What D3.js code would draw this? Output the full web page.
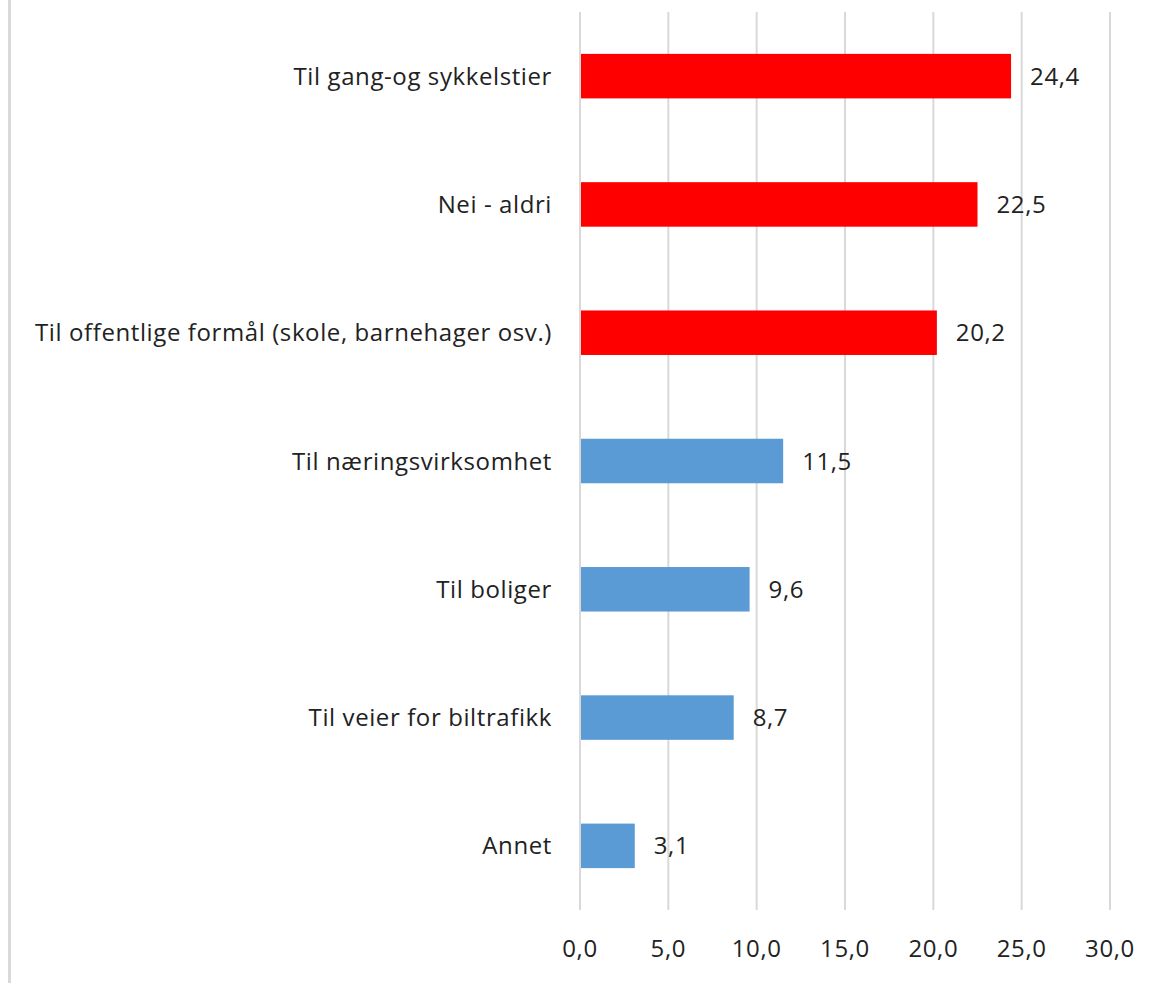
<!DOCTYPE html>
<html>
<head>
<meta charset="utf-8">
<script src="https://cdn.jsdelivr.net/npm/d3@7"></script>
<style>
  html, body { margin: 0; padding: 0; background: #fff; }
  svg text { font-family: "Open Sans", "Noto Sans", sans-serif; fill: #222; letter-spacing: 0.6px; }
</style>
</head>
<body>
<svg id="chart" width="1162" height="983"></svg>
<script>
const categories = [
  "Til gang-og sykkelstier",
  "Nei - aldri",
  "Til offentlige formål (skole, barnehager osv.)",
  "Til næringsvirksomhet",
  "Til boliger",
  "Til veier for biltrafikk",
  "Annet"
];
const values = [24.4, 22.5, 20.2, 11.5, 9.6, 8.7, 3.1];
const highlighted = [true, true, true, false, false, false, false];
const tickValues = [0, 5, 10, 15, 20, 25, 30];

const svg = d3.select("#chart");
const margin = { left: 580, right: 52, top: 12, bottom: 73 };
const W = 1162, H = 983;
const FS = 24;

const x = d3.scaleLinear().domain([0, 30]).range([margin.left, W - margin.right]);
const y = d3.scaleBand().domain(categories)
  .range([margin.top, H - margin.bottom])
  .paddingInner(0.653).paddingOuter(0.3265);

const fmt = v => d3.format(".1f")(v).replace(".", ",");

// left border
svg.append("line")
  .attr("x1", 9.5).attr("x2", 9.5).attr("y1", 0).attr("y2", H)
  .attr("stroke", "#d9d9d9").attr("stroke-width", 3);

// gridlines
svg.append("g").selectAll("line").data(tickValues).join("line")
  .attr("x1", d => x(d)).attr("x2", d => x(d))
  .attr("y1", margin.top).attr("y2", H - margin.bottom)
  .attr("stroke", "#d9d9d9").attr("stroke-width", 2);

// x tick labels
svg.append("g").selectAll("text").data(tickValues).join("text")
  .attr("x", d => x(d)).attr("y", 957)
  .attr("text-anchor", "middle")
  .attr("font-size", FS)
  .text(d => fmt(d));

// bars
svg.append("g").selectAll("rect").data(categories).join("rect")
  .attr("x", x(0) + 1)
  .attr("y", d => y(d))
  .attr("width", (d, i) => x(values[i]) - x(0) - 1)
  .attr("height", y.bandwidth())
  .attr("fill", (d, i) => highlighted[i] ? "#ff0000" : "#5b9bd5");

// category labels
svg.append("g").selectAll("text").data(categories).join("text")
  .attr("x", x(0) - 28)
  .attr("y", d => y(d) + y.bandwidth() / 2)
  .attr("dy", "0.36em")
  .attr("text-anchor", "end")
  .attr("font-size", FS)
  .text(d => d);

// value labels
svg.append("g").selectAll("text").data(categories).join("text")
  .attr("x", (d, i) => x(values[i]) + 19)
  .attr("y", d => y(d) + y.bandwidth() / 2)
  .attr("dy", "0.36em")
  .attr("font-size", FS)
  .text((d, i) => fmt(values[i]));
</script>
</body>
</html>
